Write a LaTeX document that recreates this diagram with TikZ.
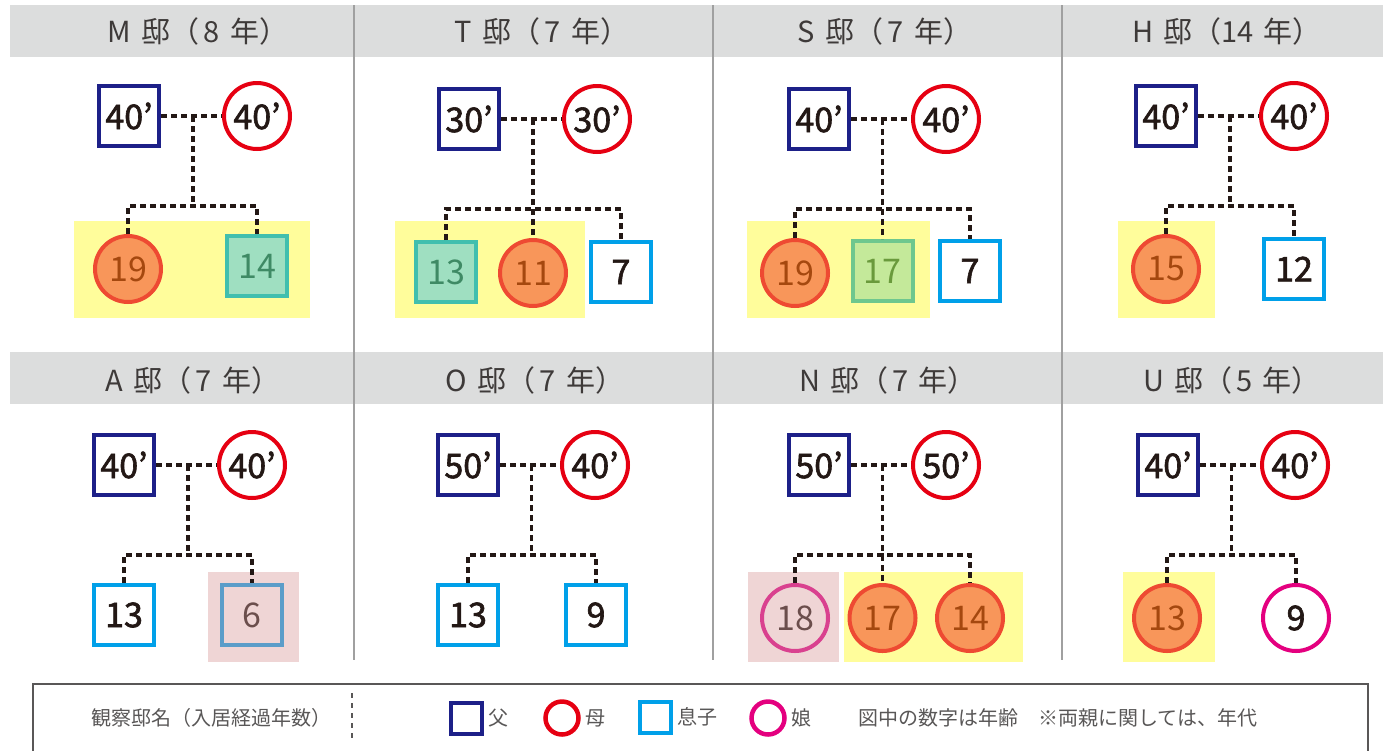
\documentclass[tikz,border=0pt]{standalone}
\usepackage{fontspec}
\setmainfont{Noto Sans CJK JP}
\newfontfamily\numfont{Noto Sans CJK JP}[FakeBold=1.8]
\usetikzlibrary{calc}
\definecolor{ink}{HTML}{231815}
\definecolor{hdgray}{HTML}{DCDDDD}
\definecolor{hdtext}{HTML}{3E3A39}
\definecolor{divgray}{HTML}{A0A0A0}
\definecolor{navy}{HTML}{1D2088}
\definecolor{momred}{HTML}{E60012}
\definecolor{soncyan}{HTML}{00A0E9}
\definecolor{daumag}{HTML}{E4007F}
\definecolor{hlyellow}{HTML}{FFFD9B}
\definecolor{hlpink}{HTML}{EFD5D5}
\definecolor{orfill}{HTML}{F8965A}
\definecolor{orline}{HTML}{EE4A32}
\definecolor{ortext}{HTML}{A5480F}
\definecolor{mtfill}{HTML}{9FDFC1}
\definecolor{mtline}{HTML}{41BFAE}
\definecolor{mttext}{HTML}{3F8A65}
\definecolor{lmfill}{HTML}{C4E99A}
\definecolor{lmline}{HTML}{6EC78E}
\definecolor{lmtext}{HTML}{6A9A3C}
\definecolor{pkline}{HTML}{5B9DC9}
\definecolor{pkcirc}{HTML}{D9418F}
\definecolor{pktext}{HTML}{6B4E4C}
\definecolor{legtext}{HTML}{595757}

\begin{document}
\begin{tikzpicture}[x=1pt,y=-1pt,every node/.style={inner sep=0pt},
  kin/.style={draw=ink,line width=3.2pt,dash pattern=on 6pt off 4pt},
  num/.style={font=\fontsize{34}{34}\selectfont\numfont,text=ink},
  soft/.style={font={\normalfont\fontsize{34}{34}\selectfont}},
  father/.style={num,rectangle,draw=navy,line width=4pt,minimum size=60pt,fill=white},
  mother/.style={num,circle,draw=momred,line width=4pt,minimum size=66pt,fill=white},
  son/.style={num,rectangle,draw=soncyan,line width=4pt,minimum size=60pt,fill=white},
  daughter/.style={num,circle,draw=daumag,line width=4pt,minimum size=66pt,fill=white},
  orng/.style={soft,fill=orfill,draw=orline,text=ortext},
  mint/.style={soft,fill=mtfill,draw=mtline,text=mttext},
  lime/.style={soft,fill=lmfill,draw=lmline,text=lmtext},
  pinkson/.style={soft,fill=none,draw=pkline,text=pktext},
  pinkdau/.style={soft,fill=none,draw=pkcirc,text=pktext},
  head/.style={font=\fontsize{29}{29}\selectfont,text=hdtext},
  legend/.style={font=\fontsize{20}{20}\selectfont,text=legtext}]
  \useasboundingbox (0,0) rectangle (1383,750);

  % header bands and panel rules
  \fill[hdgray] (10,5) rectangle (1383,57);
  \fill[hdgray] (10,352) rectangle (1383,404);
  \draw[divgray,line width=1.5pt] (354,5) -- (354,660);
  \draw[divgray,line width=1.5pt] (713,5) -- (713,660);
  \draw[divgray,line width=1.5pt] (1062,5) -- (1062,660);

  % highlights
  \fill[hlyellow] (74,221) rectangle (310,318);
  \fill[hlyellow] (395,221) rectangle (585,318);
  \fill[hlyellow] (747,221) rectangle (930,318);
  \fill[hlyellow] (1118,221) rectangle (1215,318);
  \fill[hlpink] (208,572) rectangle (299,662);
  \fill[hlpink] (748,572) rectangle (839,662);
  \fill[hlyellow] (844,572) rectangle (1023,662);
  \fill[hlyellow] (1123,572) rectangle (1215,662);

  \node[head] (hM) at (198,31) {M\hspace{.35em}邸（\hspace{.15em}8\hspace{.35em}年）};
  \node[head] (hT) at (542,31) {T\hspace{.35em}邸（\hspace{.15em}7\hspace{.35em}年）};
  \node[head] (hS) at (885,31) {S\hspace{.35em}邸（\hspace{.15em}7\hspace{.35em}年）};
  \node[head] (hH) at (1227,31) {H\hspace{.35em}邸（14\hspace{.35em}年）};
  \node[head] (hA) at (193,380) {A\hspace{.35em}邸（\hspace{.15em}7\hspace{.35em}年）};
  \node[head] (hO) at (535,380) {O\hspace{.35em}邸（\hspace{.15em}7\hspace{.35em}年）};
  \node[head] (hN) at (888,380) {N\hspace{.35em}邸（\hspace{.15em}7\hspace{.35em}年）};
  \node[head] (hU) at (1232,380) {U\hspace{.35em}邸（\hspace{.15em}5\hspace{.35em}年）};

  % M
  \node[father] (Mf) at (129,116) {40’};
  \node[mother] (Mm) at (257,116) {40’};
  \node[daughter,orng] (M1) at (128,269) {19};
  \node[son,mint] (M2) at (257,266) {14};
  \draw[kin] (Mf) -- (Mm);
  \draw[kin] ($(Mf)!.5!(Mm)$) -- ++(0,90) coordinate (Mb);
  \draw[kin] (M1) |- (Mb) -| (M2);

  % T
  \node[father] (Tf) at (469,119) {30’};
  \node[mother] (Tm) at (597,119) {30’};
  \node[son,mint] (T1) at (446,272) {13};
  \node[daughter,orng] (T2) at (533,273) {11};
  \node[son] (T3) at (621,272) {7};
  \draw[kin] (Tf) -- (Tm);
  \draw[kin] ($(Tf)!.5!(Tm)$) -- ++(0,90) coordinate (Tb);
  \draw[kin] (T1) |- (Tb) -| (T3);
  \draw[kin] (Tb) -- (T2);

  % S
  \node[father] (Sf) at (819,119) {40’};
  \node[mother] (Sm) at (946,119) {40’};
  \node[daughter,orng] (S1) at (795,273) {19};
  \node[son,lime] (S2) at (882.5,271) {17};
  \node[son] (S3) at (970,271) {7};
  \draw[kin] (Sf) -- (Sm);
  \draw[kin] ($(Sf)!.5!(Sm)$) -- ++(0,90) coordinate (Sb);
  \draw[kin] (S1) |- (Sb) -| (S3);
  \draw[kin] (Sb) -- (S2);

  % H
  \node[father] (Hf) at (1166,116) {40’};
  \node[mother] (Hm) at (1294,116) {40’};
  \node[daughter,orng] (H1) at (1166,269) {15};
  \node[son] (H2) at (1294,269) {12};
  \draw[kin] (Hf) -- (Hm);
  \draw[kin] ($(Hf)!.5!(Hm)$) -- ++(0,90) coordinate (Hb);
  \draw[kin] (H1) |- (Hb) -| (H2);

  % A
  \node[father] (Af) at (124,465) {40’};
  \node[mother] (Am) at (252,465) {40’};
  \node[son] (A1) at (124,615) {13};
  \node[son,pinkson] (A2) at (252,615) {6};
  \draw[kin] (Af) -- (Am);
  \draw[kin] ($(Af)!.5!(Am)$) -- ++(0,90) coordinate (Ab);
  \draw[kin] (A1) |- (Ab) -| (A2);

  % O
  \node[father] (Of) at (468,465) {50’};
  \node[mother] (Om) at (595,465) {40’};
  \node[son] (O1) at (468,615) {13};
  \node[son] (O2) at (596,615) {9};
  \draw[kin] (Of) -- (Om);
  \draw[kin] ($(Of)!.5!(Om)$) -- ++(0,90) coordinate (Ob);
  \draw[kin] (O1) |- (Ob) -| (O2);

  % N
  \node[father] (Nf) at (819,465) {50’};
  \node[mother] (Nm) at (946,465) {50’};
  \node[daughter,pinkdau] (N1) at (795,618) {18};
  \node[daughter,orng] (N2) at (882.5,618) {17};
  \node[daughter,orng] (N3) at (970,618) {14};
  \draw[kin] (Nf) -- (Nm);
  \draw[kin] ($(Nf)!.5!(Nm)$) -- ++(0,90) coordinate (Nb);
  \draw[kin] (N1) |- (Nb) -| (N3);
  \draw[kin] (Nb) -- (N2);

  % U
  \node[father] (Uf) at (1168,465) {40’};
  \node[mother] (Um) at (1295,465) {40’};
  \node[daughter,orng] (U1) at (1167,618) {13};
  \node[daughter] (U2) at (1296,618) {9};
  \draw[kin] (Uf) -- (Um);
  \draw[kin] ($(Uf)!.5!(Um)$) -- ++(0,90) coordinate (Ub);
  \draw[kin] (U1) |- (Ub) -| (U2);

  % legend
  \draw[legtext,line width=1.6pt] (33,684) rectangle (1368,770);
  \node[legend] (lname) at (211,718) {観察邸名（入居経過年数）};
  \draw[legtext,line width=1.5pt,dash pattern=on 5pt off 5pt] (352,693) -- (352,739);
  \node[rectangle,draw=navy,line width=4pt,minimum size=31pt] (lfa) at (466,718) {};
  \node[legend,right=5pt] (lfat) at (lfa.east) {父};
  \node[circle,draw=momred,line width=4.5pt,minimum size=33pt] (lmo) at (562,718) {};
  \node[legend,right=5pt] (lmot) at (lmo.east) {母};
  \node[rectangle,draw=soncyan,line width=4pt,minimum size=31pt] (lso) at (655,717) {};
  \node[legend,right=5pt] (lsot) at (lso.east) {息子};
  \node[circle,draw=daumag,line width=4.5pt,minimum size=33pt] (lda) at (768,718) {};
  \node[legend,right=5pt] (ldat) at (lda.east) {娘};
  \node[legend,anchor=west] (lnote) at (858,718) {図中の数字は年齢　※両親に関しては、年代};
\end{tikzpicture}
\end{document}
